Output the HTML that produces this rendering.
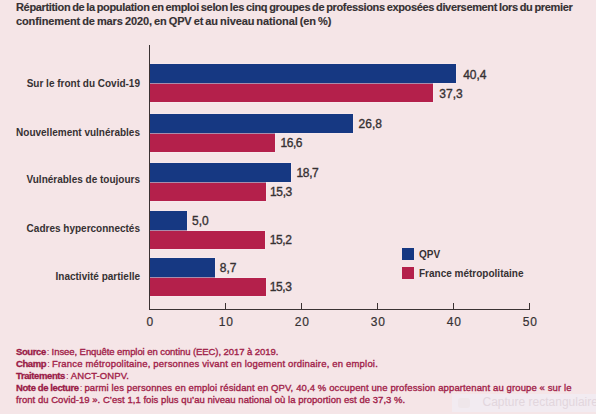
<!DOCTYPE html>
<html><head><meta charset="utf-8">
<style>
html,body{margin:0;padding:0}
body{width:596px;height:414px;background:#F5E5E7;position:relative;overflow:hidden;font-family:"Liberation Sans",sans-serif;color:#363133}
.title{position:absolute;left:16px;font-weight:bold;font-size:11px;line-height:12px;word-spacing:-0.8px;-webkit-text-stroke:0.15px #363133;color:#363133;white-space:nowrap}
.vl{position:absolute;background:#3a3232;z-index:2}
.bar{position:absolute;left:150px;height:19px;box-shadow:0 0 0 1px rgba(252,240,248,0.3)}
.sep{position:absolute;left:150px;height:1px;background:#A98CAB}
.b{background:#163882}
.r{background:#B4204B}
.val{position:absolute;font-size:12px;line-height:12px;white-space:nowrap;-webkit-text-stroke:0.35px #363133}
.cat{position:absolute;right:456px;font-weight:bold;font-size:10px;line-height:12px;white-space:nowrap;text-align:right}
.tick{position:absolute;font-size:12px;line-height:12px;width:40px;text-align:center;letter-spacing:0.8px;padding-left:0.8px;-webkit-text-stroke:0.2px #363133}
.leg{position:absolute;left:402px;width:12px;height:12px}
.legt{position:absolute;left:419px;font-weight:bold;font-size:10px;line-height:10px;white-space:nowrap}
#foot{position:absolute;left:16px;top:346.4px;font-size:9.5px;line-height:11.8px;color:#A21F4A;white-space:nowrap}
#foot i{font-style:normal;margin-left:1px;margin-right:-0.5px}
#foot b{font-weight:bold;letter-spacing:-0.4px;color:#9A1A46;-webkit-text-stroke:0.3px #9A1A46}
#foot span{-webkit-text-stroke:0.35px #A21F4A}
#foot>div{position:absolute;left:0;white-space:nowrap}
.ghost{position:absolute;left:452px;top:394px;width:150px;height:18px;background:#F2EBF1}
.ghosti{position:absolute;left:458px;top:398px;width:12px;height:10px;background:#EFE6EA;border-radius:3px}
.ghostt{position:absolute;left:482.5px;top:396px;font-size:12px;line-height:13px;color:#E2D6DD;white-space:nowrap}
</style></head><body>
<div id="t1" class="title" style="top:1px;letter-spacing:-0.34px">Répartition de la population en emploi selon les cinq groupes de professions exposées diversement lors du premier</div>
<div id="t2" class="title" style="top:15.3px;letter-spacing:-0.12px">confinement de mars 2020, en QPV et au niveau national (en %)</div>
<div class="vl" style="left:149px;top:45px;width:1px;height:265px"></div>
<div class="vl" style="left:149px;top:309px;width:381px;height:1px"></div>
<div class="vl" style="left:225px;top:303px;width:1px;height:6px"></div>
<div class="vl" style="left:301px;top:303px;width:1px;height:6px"></div>
<div class="vl" style="left:377px;top:303px;width:1px;height:6px"></div>
<div class="vl" style="left:453px;top:303px;width:1px;height:6px"></div>
<div class="vl" style="left:529px;top:303px;width:1px;height:6px"></div>
<div class="tick" style="left:129.5px;top:316px">0</div>
<div class="tick" style="left:205.5px;top:316px">10</div>
<div class="tick" style="left:281.5px;top:316px">20</div>
<div class="tick" style="left:357.4px;top:316px">30</div>
<div class="tick" style="left:433.4px;top:316px">40</div>
<div class="tick" style="left:509.4px;top:316px">50</div>
<div class="bar b" style="top:64px;width:306px"></div>
<div class="bar r" style="top:84px;height:18px;width:283px"></div>
<div class="sep" style="top:83px;width:283px"></div>
<div class="val" style="left:463.2px;top:69px;">40,4</div>
<div class="val" style="left:439.3px;top:88px;">37,3</div>
<div class="cat" style="top:78px">Sur le front du Covid-19</div>
<div class="bar b" style="top:114px;width:203px"></div>
<div class="bar r" style="top:134px;height:18px;width:125px"></div>
<div class="sep" style="top:133px;width:125px"></div>
<div class="val" style="left:358.6px;top:118px;">26,8</div>
<div class="val" style="left:280.4px;top:137px;letter-spacing:-0.4px">16,6</div>
<div class="cat" style="top:127px">Nouvellement vulnérables</div>
<div class="bar b" style="top:163px;width:141px"></div>
<div class="bar r" style="top:183px;height:18px;width:116px"></div>
<div class="sep" style="top:182px;width:116px"></div>
<div class="val" style="left:296.6px;top:167px;letter-spacing:-0.4px">18,7</div>
<div class="val" style="left:270.1px;top:186px;letter-spacing:-0.4px">15,3</div>
<div class="cat" style="top:174px">Vulnérables de toujours</div>
<div class="bar b" style="top:211px;width:37px"></div>
<div class="bar r" style="top:231px;height:18px;width:115px"></div>
<div class="sep" style="top:230px;width:37px"></div>
<div class="val" style="left:192.0px;top:215px;">5,0</div>
<div class="val" style="left:269.8px;top:234px;letter-spacing:-0.4px">15,2</div>
<div class="cat" style="top:223px">Cadres hyperconnectés</div>
<div class="bar b" style="top:258px;width:65px"></div>
<div class="bar r" style="top:278px;height:18px;width:116px"></div>
<div class="sep" style="top:277px;width:65px"></div>
<div class="val" style="left:219.8px;top:262px;">8,7</div>
<div class="val" style="left:269.8px;top:281px;letter-spacing:-0.4px">15,3</div>
<div class="cat" style="top:271px">Inactivité partielle</div>
<div class="leg b" style="top:248px"></div>
<div class="leg r" style="top:267px"></div>
<div class="legt" style="top:250px">QPV</div>
<div class="legt" style="top:269px">France métropolitaine</div>
<div id="foot">
<div style="top:0px"><b>Source</b><i>:</i> <span style="letter-spacing:-0.07px">Insee, Enquête emploi en continu (EEC), 2017 à 2019.</span></div>
<div style="top:11.9px"><b>Champ</b><i>:</i> <span style="letter-spacing:0.183px">France métropolitaine, personnes vivant en logement ordinaire, en emploi.</span></div>
<div style="top:23.8px"><b>Traitements</b><i>:</i> <span style="letter-spacing:0.12px">ANCT-ONPV.</span></div>
<div style="top:35.7px"><b>Note de lecture</b><i>:</i> <span style="letter-spacing:0.119px">parmi les personnes en emploi résidant en QPV, 40,4 % occupent une profession appartenant au groupe « sur le</span></div>
<div style="top:47.6px"><span style="letter-spacing:0.04px">front du Covid-19 ». C’est 1,1 fois plus qu’au niveau national où la proportion est de 37,3 %.</span></div>
</div>
<div class="ghost"></div><div class="ghosti"></div><div class="ghostt">Capture rectangulaire</div>
</body></html>
